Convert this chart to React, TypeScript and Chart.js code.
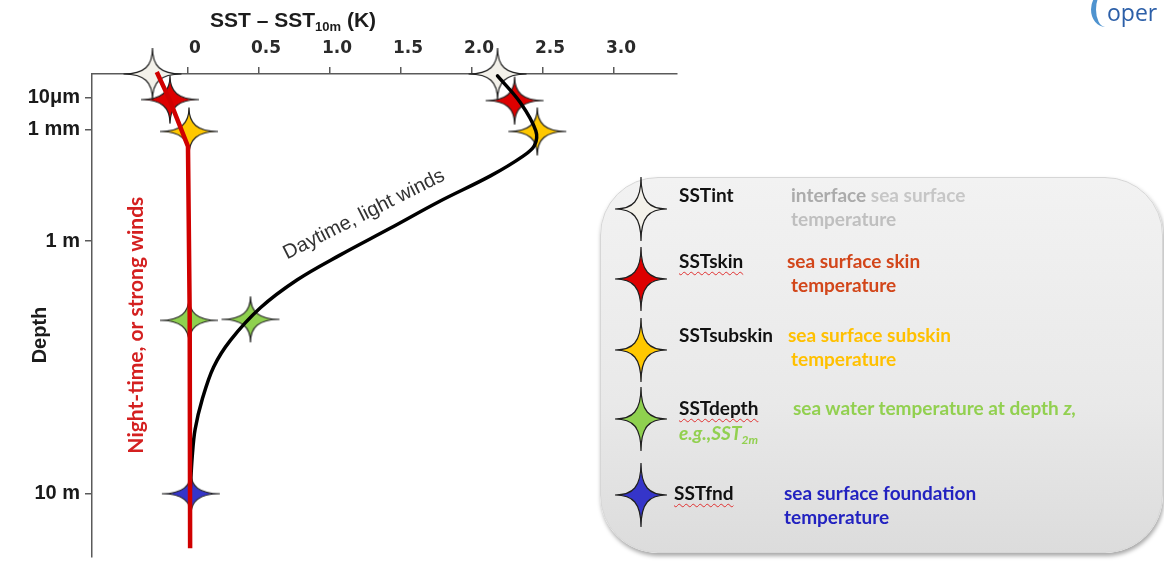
import React, { useEffect, useRef } from 'react';
import { Chart, registerables } from 'chart.js';

Chart.register(...registerables);

// ---------------- data ----------------
// top axis: SST - SST10m (K)
const X_TICKS = [0, 0.5, 1.0, 1.5, 2.0, 2.5, 3.0];
const X_TICK_LABELS = ['0', '0.5', '1.0', '1.5', '2.0', '2.5', '3.0'];
const X_RANGE = [-0.676, 3.444];

// left axis: schematic depth (0 = sea surface, 100 = bottom of diagram)
const DEPTH_TICKS = [4.9, 11.5, 34.6, 86.9];
const DEPTH_TICK_LABELS = ['10μm', '1 mm', '1 m', '10 m'];
const DEPTH_RANGE = [0, 100];

// SST definitions (stars)
const SST_NAMES = ['SSTint', 'SSTskin', 'SSTsubskin', 'SSTdepth', 'SSTfnd'];
const NIGHT_STAR_SST = [-0.25, -0.127, 0.007, 0.007, 0.02];
const NIGHT_STAR_DEPTH = [0, 5.3, 11.9, 51.0, 86.9];
const DAY_STAR_SST = [2.18, 2.3, 2.46, 0.44];
const DAY_STAR_DEPTH = [0, 5.5, 11.9, 50.8];

// night-time / strong wind profile
const NIGHT_PROFILE_SST = [-0.22, -0.13, 0.0, 0.012, 0.015];
const NIGHT_PROFILE_DEPTH = [-0.4, 5.3, 15.0, 50.0, 98.2];

// daytime / light wind profile
const DAY_PROFILE_SST = [2.18, 2.34, 2.45, 2.44, 2.36, 2.13, 1.77, 1.42, 1.07, 0.77, 0.51, 0.3, 0.18, 0.1, 0.05, 0.03, 0.015];
const DAY_PROFILE_DEPTH = [0.4, 5.9, 11.8, 14.8, 17.0, 21.1, 26.4, 32.0, 37.5, 42.6, 48.4, 55.1, 60.7, 67.4, 73.6, 79.1, 86.5];

// annotation labels (anchored in data space)
const NIGHT_LABEL = 'Night-time, or strong winds';
const NIGHT_LABEL_POS = [-0.365, 52.0];
const DAY_LABEL = 'Daytime, light winds';
const DAY_LABEL_POS = [1.24, 29.1];

// ---------------- styles ----------------
const STAR_COLORS = ['#f3f1ea', '#dd0000', '#ffc800', '#8fd14f', '#3535c9'];
const STAR_HALF_W = 29;
const STAR_HALF_H = [26, 24, 24, 23, 21];
const STAR_WAIST = 8;
const LEGEND_STAR_W = 26;
const LEGEND_STAR_H = 32;

function starPathD(w: number, h: number, c: number) {
  return `M 0 ${-h} C 0 ${-c} ${c} 0 ${w} 0 C ${c} 0 0 ${c} 0 ${h} C 0 ${c} ${-c} 0 ${-w} 0 C ${-c} 0 0 ${-c} 0 ${-h} Z`;
}

function makeStarCanvas(fill: string, w: number, h: number) {
  const cv = document.createElement('canvas');
  cv.width = Math.ceil(2 * w + 4);
  cv.height = Math.ceil(2 * h + 4);
  const ctx = cv.getContext('2d')!;
  ctx.translate(cv.width / 2, cv.height / 2);
  const p = new Path2D(starPathD(w, h, STAR_WAIST));
  ctx.fillStyle = fill;
  ctx.fill(p);
  ctx.lineWidth = 1.2;
  ctx.strokeStyle = '#1e1e1e';
  ctx.stroke(p);
  return cv;
}

const textPlugin = {
  id: 'sstText',
  afterDraw(chart: any) {
    const { ctx } = chart;
    const xs = chart.scales.x;
    const ys = chart.scales.y;
    ctx.save();
    // top axis title with subscript
    ctx.fillStyle = '#1c1c1c';
    ctx.textAlign = 'left';
    ctx.textBaseline = 'alphabetic';
    const big = 'bold 21px "Liberation Sans", Arial, sans-serif';
    const small = 'bold 13px "Liberation Sans", Arial, sans-serif';
    let px = 210;
    const base = 27;
    ctx.font = big;
    ctx.fillText('SST – SST', px, base);
    px += ctx.measureText('SST – SST').width;
    ctx.font = small;
    ctx.fillText('10m', px, base + 4);
    px += ctx.measureText('10m').width;
    ctx.font = big;
    ctx.fillText(' (K)', px, base);

    // left axis title
    ctx.save();
    ctx.translate(40, 335);
    ctx.rotate(-Math.PI / 2);
    ctx.textAlign = 'center';
    ctx.textBaseline = 'middle';
    ctx.font = 'bold 20px "Liberation Sans", Arial, sans-serif';
    ctx.fillText('Depth', 0, 0);
    ctx.restore();

    // night label
    ctx.save();
    ctx.translate(xs.getPixelForValue(NIGHT_LABEL_POS[0]), ys.getPixelForValue(NIGHT_LABEL_POS[1]));
    ctx.rotate(-Math.PI / 2);
    ctx.textAlign = 'center';
    ctx.textBaseline = 'middle';
    ctx.font = 'bold 21px Lato, "Open Sans", sans-serif';
    ctx.fillStyle = '#d42020';
    ctx.fillText(NIGHT_LABEL, 0, 0);
    ctx.restore();

    // day label
    ctx.save();
    ctx.translate(xs.getPixelForValue(DAY_LABEL_POS[0]), ys.getPixelForValue(DAY_LABEL_POS[1]));
    ctx.rotate((-26.7 * Math.PI) / 180);
    ctx.textAlign = 'center';
    ctx.textBaseline = 'middle';
    ctx.font = '20px "Liberation Sans", Arial, sans-serif';
    ctx.fillStyle = '#333333';
    ctx.fillText(DAY_LABEL, 0, 0);
    ctx.restore();

    ctx.restore();
  },
};

const legendFont: React.CSSProperties = {
  position: 'absolute',
  fontFamily: 'Lato, "Open Sans", sans-serif',
  fontWeight: 700,
  fontSize: 19,
  lineHeight: '24px',
  whiteSpace: 'nowrap',
};

const wavy: React.CSSProperties = {
  textDecorationLine: 'underline',
  textDecorationStyle: 'wavy',
  textDecorationColor: '#e03030',
  textDecorationThickness: '1px',
  textUnderlineOffset: '3px',
};

const LEGEND_STAR_Y = [209, 279, 350, 419, 495];

function LegendStar({ color, cy }: { color: string; cy: number }) {
  const W = 60;
  const H = 72;
  return (
    <svg
      width={W}
      height={H}
      style={{ position: 'absolute', left: 641 - W / 2, top: cy - H / 2 }}
    >
      <path
        transform={`translate(${W / 2},${H / 2})`}
        d={starPathD(LEGEND_STAR_W, LEGEND_STAR_H, STAR_WAIST)}
        fill={color}
        stroke="#1e1e1e"
        strokeWidth={1.2}
      />
    </svg>
  );
}

export default function App() {
  const canvasRef = useRef<HTMLCanvasElement>(null);

  useEffect(() => {
    const canvas = canvasRef.current!;
    const stars = STAR_COLORS.map((c, i) => makeStarCanvas(c, STAR_HALF_W, STAR_HALF_H[i]));

    const starSets = SST_NAMES.map((name, i) => {
      const pts = [{ x: NIGHT_STAR_SST[i], y: NIGHT_STAR_DEPTH[i] }];
      if (i < DAY_STAR_SST.length) pts.push({ x: DAY_STAR_SST[i], y: DAY_STAR_DEPTH[i] });
      return {
        label: name,
        data: pts,
        pointStyle: stars[i],
        pointRadius: 5,
        pointBorderWidth: 0,
        showLine: false,
        clip: false,
        order: 2 + i,
      };
    });

    const chart = new Chart(canvas, {
      type: 'scatter',
      data: {
        datasets: [
          {
            label: 'night',
            data: NIGHT_PROFILE_SST.map((v, i) => ({ x: v, y: NIGHT_PROFILE_DEPTH[i] })),
            showLine: true,
            borderColor: '#d00000',
            borderWidth: 4.5,
            pointRadius: 0,
            tension: 0,
            clip: false,
            order: 0,
          },
          {
            label: 'day',
            data: DAY_PROFILE_SST.map((v, i) => ({ x: v, y: DAY_PROFILE_DEPTH[i] })),
            showLine: true,
            borderColor: '#000000',
            borderWidth: 3.5,
            pointRadius: 0,
            tension: 0.35,
            borderCapStyle: 'round',
            clip: false,
            order: 1,
          },
          ...starSets,
        ] as any,
      },
      options: {
        responsive: false,
        animation: false,
        events: [],
        layout: { padding: { left: 0, top: 0, right: 1164 - 677, bottom: 0 } },
        plugins: { legend: { display: false }, tooltip: { enabled: false }, title: { display: false } },
        scales: {
          x: {
            type: 'linear',
            position: 'top',
            min: X_RANGE[0],
            max: X_RANGE[1],
            afterBuildTicks: (s: any) => {
              s.ticks = X_TICKS.map((v) => ({ value: v }));
            },
            afterFit: (s: any) => {
              s.height = 74;
              s.paddingLeft = 0;
              s.paddingRight = 0;
            },
            ticks: {
              autoSkip: false,
              maxRotation: 0,
              padding: 8,
              labelOffset: 7,
              color: '#2a2a2a',
              font: { family: '"DejaVu Sans", Verdana, sans-serif', weight: 'bold', size: 17 },
              callback: (v: any) => X_TICK_LABELS[X_TICKS.indexOf(Number(v))],
            },
            grid: { drawOnChartArea: false, drawTicks: true, tickLength: 7, color: '#5a5a5a', lineWidth: 1.5 },
            border: { display: true, color: '#5a5a5a', width: 1.5 },
          },
          y: {
            type: 'linear',
            position: 'left',
            reverse: true,
            min: DEPTH_RANGE[0],
            max: DEPTH_RANGE[1],
            afterBuildTicks: (s: any) => {
              s.ticks = DEPTH_TICKS.map((v) => ({ value: v }));
            },
            afterFit: (s: any) => {
              s.width = 92;
              s.paddingTop = 0;
              s.paddingBottom = 0;
            },
            ticks: {
              autoSkip: false,
              padding: 5,
              color: '#1a1a1a',
              font: { family: '"Liberation Sans", Arial, sans-serif', weight: 'bold', size: 20 },
              callback: (v: any) => DEPTH_TICK_LABELS[DEPTH_TICKS.indexOf(Number(v))],
            },
            grid: { drawOnChartArea: false, drawTicks: true, tickLength: 7, color: '#5a5a5a', lineWidth: 1.5 },
            border: { display: true, color: '#5a5a5a', width: 1.5 },
          },
        },
      } as any,
      plugins: [textPlugin],
    });
    return () => chart.destroy();
  }, []);

  return (
    <div
      style={{
        position: 'fixed',
        left: 0,
        top: 0,
        width: 1164,
        height: 562,
        overflow: 'hidden',
        background: '#ffffff',
      }}
    >
      <canvas ref={canvasRef} width={1164} height={562} style={{ position: 'absolute', left: 0, top: 0 }} />

      {/* logo fragment, top right */}
      <div
        style={{
          position: 'absolute',
          left: 1091,
          top: -8,
          width: 28,
          height: 35,
          borderRadius: '50%',
          borderLeft: '5px solid #4f93cf',
          boxSizing: 'border-box',
        }}
      />
      <div
        style={{
          position: 'absolute',
          left: 1107,
          top: 1,
          fontFamily: '"Open Sans", sans-serif',
          fontSize: 23,
          lineHeight: '22px',
          color: '#2c5fa8',
          whiteSpace: 'nowrap',
        }}
      >
        oper
      </div>

      {/* legend box */}
      <div
        style={{
          position: 'absolute',
          left: 600,
          top: 177,
          width: 563,
          height: 376,
          boxSizing: 'border-box',
          borderRadius: 58,
          border: '1px solid #d6d6d6',
          background: 'linear-gradient(180deg, #f2f2f2 0%, #e9e9e9 60%, #dcdcdc 100%)',
          boxShadow: '1px 3px 4px rgba(0,0,0,0.35)',
        }}
      />
      {STAR_COLORS.map((c, i) => (
        <LegendStar key={i} color={c} cy={LEGEND_STAR_Y[i]} />
      ))}

      {/* SSTint */}
      <div style={{ ...legendFont, left: 679, top: 183, color: '#111' }}>{SST_NAMES[0]}</div>
      <div style={{ ...legendFont, left: 791, top: 183 }}>
        <span style={{ color: '#ababab' }}>interface</span>
        <span style={{ color: '#c6c6c6' }}> sea surface</span>
        <br />
        <span style={{ color: '#bfbfbf' }}>temperature</span>
      </div>

      {/* SSTskin */}
      <div style={{ ...legendFont, left: 679, top: 249, color: '#111' }}>
        <span style={wavy}>{SST_NAMES[1]}</span>
      </div>
      <div style={{ ...legendFont, left: 787, top: 249, color: '#d2461a' }}>
        sea surface skin
        <br />
        <span style={{ marginLeft: 4 }}>temperature</span>
      </div>

      {/* SSTsubskin */}
      <div style={{ ...legendFont, left: 679, top: 323, color: '#111' }}>{SST_NAMES[2]}</div>
      <div style={{ ...legendFont, left: 788, top: 323, color: '#ffc000' }}>
        sea surface subskin
        <br />
        <span style={{ marginLeft: 3 }}>temperature</span>
      </div>

      {/* SSTdepth */}
      <div style={{ ...legendFont, left: 679, top: 396, color: '#111' }}>
        <span style={wavy}>{SST_NAMES[3]}</span>
      </div>
      <div style={{ ...legendFont, left: 793, top: 396, color: '#92d050' }}>
        sea water temperature at depth <i>z,</i>
      </div>
      <div style={{ ...legendFont, left: 679, top: 421, color: '#92d050', fontStyle: 'italic' }}>
        e.g.,SST<span style={{ fontSize: 12, verticalAlign: '-4px' }}>2m</span>
      </div>

      {/* SSTfnd */}
      <div style={{ ...legendFont, left: 674, top: 481, color: '#111' }}>
        <span style={wavy}>{SST_NAMES[4]}</span>
      </div>
      <div style={{ ...legendFont, left: 784, top: 481, color: '#2222c0' }}>
        sea surface foundation
        <br />
        temperature
      </div>
    </div>
  );
}
